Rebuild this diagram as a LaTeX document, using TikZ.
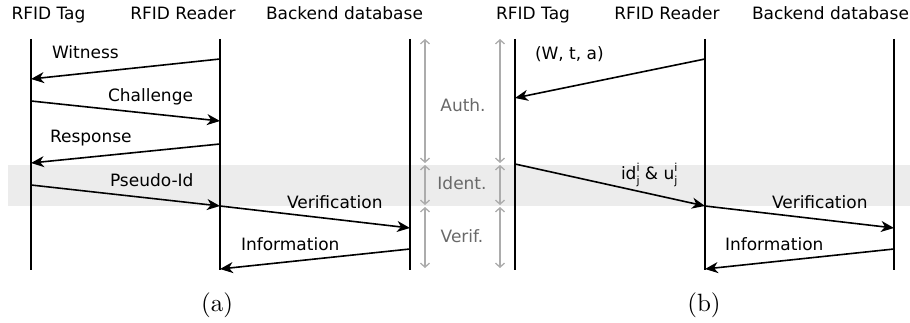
\documentclass[tikz,border=0pt]{standalone}
\usepackage{fontspec}
\setsansfont{DejaVu Sans}
\newfontfamily\capfont{lmroman10-regular}[Extension=.otf]
\usetikzlibrary{arrows.meta}
\definecolor{bandgray}{RGB}{236,236,236}
\definecolor{arrgray}{RGB}{172,172,172}
\definecolor{lblgray}{RGB}{105,105,105}
\newcommand{\supsub}[2]{\makebox[0pt][l]{\raisebox{0.95ex}{\fontsize{11}{11}\selectfont #1}}\raisebox{-0.45ex}{\fontsize{11}{11}\selectfont #2}}
\begin{document}
\begin{tikzpicture}[x=1pt,y=-1pt,
  every node/.style={inner sep=0pt,outer sep=0pt,font=\sffamily\fontsize{17}{19}\selectfont},
  lifeline/.style={line width=1.6pt,black},
  msg/.style={line width=1.6pt,-{Stealth[length=13pt,width=11pt,inset=4pt]}},
  phase/.style={line width=1.3pt,arrgray,{Straight Barb[length=4pt,width=9pt]}-{Straight Barb[length=4pt,width=9pt]}},
  hdr/.style={anchor=base},
  lbl/.style={anchor=base west},
  plbl/.style={anchor=base,text=lblgray},
  captxt/.style={anchor=base,font=\capfont\fontsize{25}{28}\selectfont}]
\useasboundingbox (0,0) rectangle (910,323);
% band
\fill[bandgray] (8,165) rectangle (910,206);
% headers
\node[hdr] (hTa) at (48.5,20) {RFID Tag};
\node[hdr] (hRa) at (183,20) {RFID Reader};
\node[hdr] (hBa) at (344.5,20) {Backend database};
\node[hdr] (hTb) at (533,20) {RFID Tag};
\node[hdr] (hRb) at (667,20) {RFID Reader};
\node[hdr] (hBb) at (830.5,20) {Backend database};
% lifeline endpoints
\coordinate (Tat) at (31,39);  \coordinate (Tab) at (31,270);
\coordinate (Rat) at (220,39); \coordinate (Rab) at (220,270);
\coordinate (Bat) at (410,39); \coordinate (Bab) at (410,270);
\coordinate (Tbt) at (515,39); \coordinate (Tbb) at (515,270);
\coordinate (Rbt) at (705,39); \coordinate (Rbb) at (705,270);
\coordinate (Bbt) at (894,39); \coordinate (Bbb) at (894,270);
\foreach \a/\b in {Tat/Tab,Rat/Rab,Bat/Bab,Tbt/Tbb,Rbt/Rbb,Bbt/Bbb}
  \draw[lifeline] (\a) -- (\b);
% phase arrows
\coordinate (p1a) at (425,39);  \coordinate (p1b) at (425,163);
\coordinate (p2a) at (425,165); \coordinate (p2b) at (425,205);
\coordinate (p3a) at (425,207); \coordinate (p3b) at (425,268);
\coordinate (q1a) at (500,39);  \coordinate (q1b) at (500,163);
\coordinate (q2a) at (500,165); \coordinate (q2b) at (500,205);
\coordinate (q3a) at (500,207); \coordinate (q3b) at (500,268);
\foreach \a/\b in {p1a/p1b,p2a/p2b,p3a/p3b,q1a/q1b,q2a/q2b,q3a/q3b}
  \draw[phase] (\a) -- (\b);
\node[plbl] (auth) at (463,111.5) {Auth.};
\node[plbl] (ident) at (462,190) {Ident.};
\node[plbl] (verif) at (462,242) {Verif.};
% messages (a)
\coordinate (a1s) at (220,59);  \coordinate (a1e) at (31,79);
\coordinate (a2s) at (31,101);  \coordinate (a2e) at (220,121);
\coordinate (a3s) at (220,144); \coordinate (a3e) at (31,163);
\coordinate (a4s) at (31,185);  \coordinate (a4e) at (220,206);
\coordinate (a5s) at (220,206); \coordinate (a5e) at (410,228);
\coordinate (a6s) at (410,249); \coordinate (a6e) at (220,269);
\foreach \a/\b in {a1s/a1e,a2s/a2e,a3s/a3e,a4s/a4e,a5s/a5e,a6s/a6e}
  \draw[msg] (\a) -- (\b);
\node[lbl] (lw) at (52,59) {Witness};
\node[lbl] (lc) at (108,101.5) {Challenge};
\node[lbl] (lr) at (50,143) {Response};
\node[lbl] (lp) at (110,187) {Pseudo-Id};
\node[lbl] (lv) at (287,208) {Verification};
\node[lbl] (li) at (241,250.5) {Information};
% messages (b)
\coordinate (b1s) at (705,59);  \coordinate (b1e) at (515,98);
\coordinate (b2s) at (515,164); \coordinate (b2e) at (705,206);
\coordinate (b3s) at (705,206); \coordinate (b3e) at (894,228);
\coordinate (b4s) at (894,249); \coordinate (b4e) at (705,269);
\foreach \a/\b in {b1s/b1e,b2s/b2e,b3s/b3e,b4s/b4e}
  \draw[msg] (\a) -- (\b);
\node[lbl] (lwta) at (535,60) {(W, t, a)};
\node[lbl] (lid) at (621,180) {id\supsub{i}{j} \& u\supsub{i}{j}};
\node[lbl] (lvb) at (772,208) {Verification};
\node[lbl] (lib) at (725,250.5) {Information};
% captions
\node[captxt] (ca) at (217,311) {(a)};
\node[captxt] (cb) at (704,311) {(b)};
\end{tikzpicture}
\end{document}
